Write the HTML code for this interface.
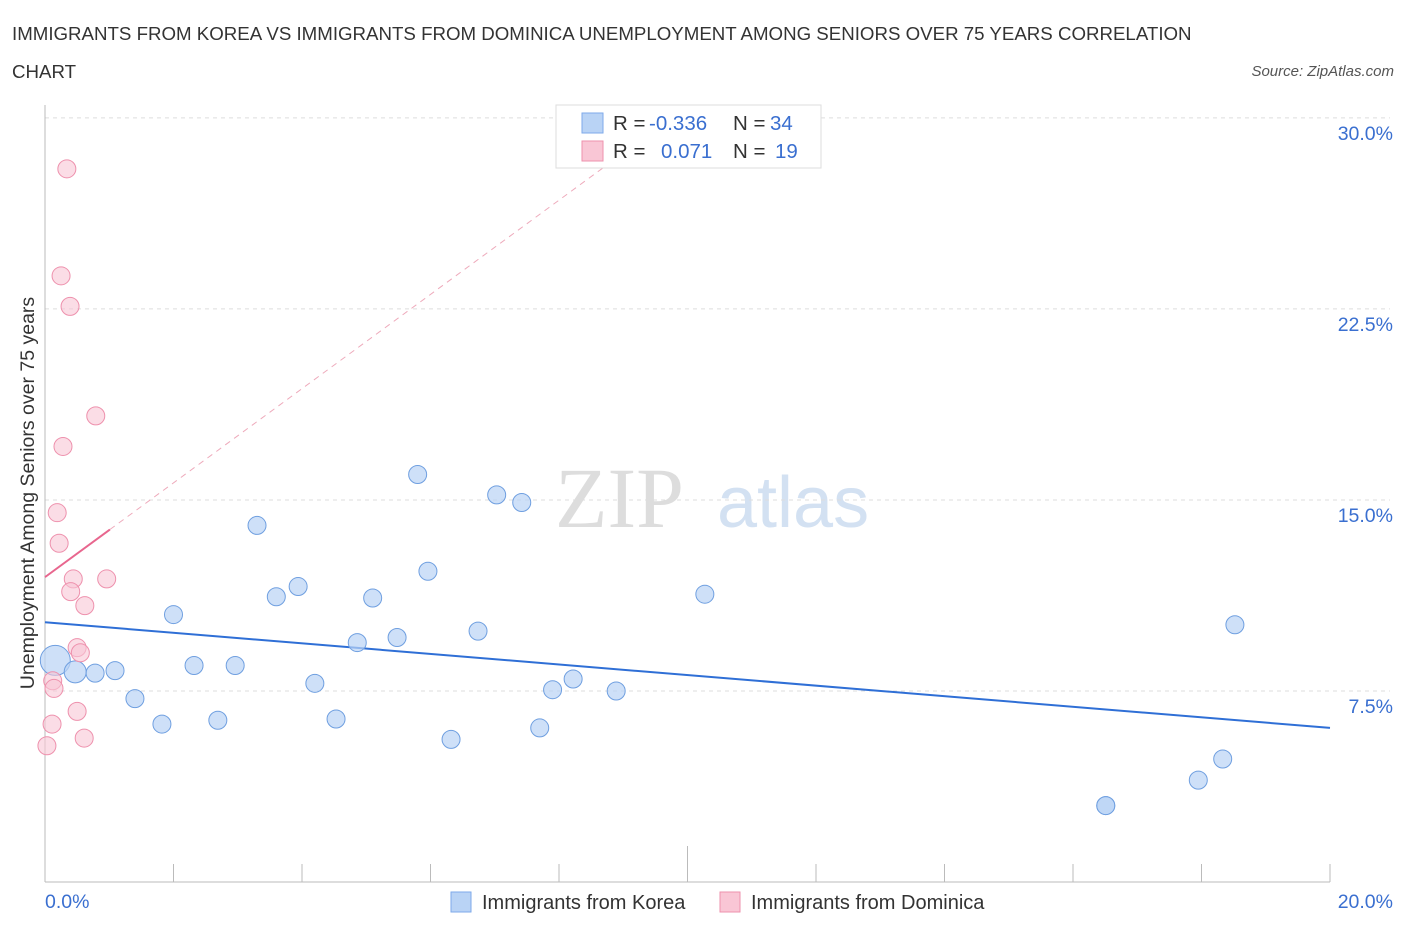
<!DOCTYPE html>
<html><head><meta charset="utf-8">
<style>
body{margin:0;background:#fff;font-family:"Liberation Sans",sans-serif;}
svg{display:block}
</style></head><body>
<svg width="1406" height="930" xmlns="http://www.w3.org/2000/svg" font-family="Liberation Sans, sans-serif">
<text x="12" y="40" font-size="18.7" fill="#333">IMMIGRANTS FROM KOREA VS IMMIGRANTS FROM DOMINICA UNEMPLOYMENT AMONG SENIORS OVER 75 YEARS CORRELATION</text>
<text x="12" y="78" font-size="18.7" fill="#333">CHART</text>
<text x="1394" y="76" font-size="15" fill="#555" font-style="italic" text-anchor="end">Source: ZipAtlas.com</text>
<text x="555" y="527" font-size="86" fill="#ddd" font-family="Liberation Serif, serif">ZIP</text>
<text x="717" y="527" font-size="72" fill="#d3e1f2">atlas</text>
<g id="grid"></g>
<g id="axes"></g>
<text transform="translate(34,493) rotate(-90)" font-size="19.5" fill="#333" text-anchor="middle">Unemployment Among Seniors over 75 years</text>
<g id="lines"></g>
<g id="pts"></g>
<g>
<rect x="556" y="105" width="265" height="63" fill="#fff" stroke="#ddd"/>
<rect x="582" y="113" width="21" height="20" fill="#b9d3f5" stroke="#7eaaea"/>
<rect x="582" y="141" width="21" height="20" fill="#f9c6d5" stroke="#ee91ad"/>
<text x="613" y="130" font-size="20.5" fill="#333">R =</text>
<text x="649" y="130" font-size="20.5" fill="#3a6fd0">-0.336</text>
<text x="733" y="130" font-size="20.5" fill="#333">N =</text>
<text x="770" y="130" font-size="20.5" fill="#3a6fd0">34</text>
<text x="613" y="158" font-size="20.5" fill="#333">R =</text>
<text x="661" y="158" font-size="20.5" fill="#3a6fd0">0.071</text>
<text x="733" y="158" font-size="20.5" fill="#333">N =</text>
<text x="775" y="158" font-size="20.5" fill="#3a6fd0">19</text>
</g>
<g>
<rect x="451" y="892" width="20" height="20" fill="#b9d3f5" stroke="#7eaaea"/>
<text x="482" y="909" font-size="20" fill="#333">Immigrants from Korea</text>
<rect x="720" y="892" width="20" height="20" fill="#f9c6d5" stroke="#ee91ad"/>
<text x="751" y="909" font-size="20" fill="#333">Immigrants from Dominica</text>
</g>
</svg>
<script>
const yTicks=[7.5,15,22.5,30];
const yTickLabels=["7.5%","15.0%","22.5%","30.0%"];
const xTickLabels=["0.0%","20.0%"];
const koreaX=[0.16,0.47,0.78,1.09,1.4,1.82,2.0,2.32,2.69,2.96,3.3,3.6,3.94,4.2,4.53,4.86,5.1,5.48,5.8,5.96,6.32,6.74,7.03,7.42,7.7,7.9,8.22,8.89,10.27,16.51,16.51,17.95,18.33,18.52];
const koreaY=[8.7,8.25,8.2,8.3,7.2,6.2,10.5,8.5,6.35,8.5,14.0,11.2,11.6,7.8,6.4,9.4,11.15,9.6,16.0,12.2,5.6,9.85,15.2,14.9,6.05,7.55,7.97,7.5,11.3,3.0,3.0,4.0,4.83,10.1];
const koreaR=[15,11,9,9,9,9,9,9,9,9,9,9,9,9,9,9,9,9,9,9,9,9,9,9,9,9,9,9,9,9,9,9,9,9];
const domX=[0.34,0.25,0.39,0.79,0.28,0.19,0.22,0.44,0.4,0.96,0.62,0.5,0.55,0.12,0.14,0.11,0.5,0.61,0.03];
const domY=[28.0,23.8,22.6,18.3,17.1,14.5,13.3,11.9,11.4,11.9,10.85,9.2,9.0,7.9,7.6,6.2,6.7,5.65,5.35];
const koreaTrend=[10.2,6.05];
const domTrend=[11.97,1.85];
const NS="http://www.w3.org/2000/svg";
const X=v=>45+v*64.25, Y=v=>882-v*25.47;
function mk(tag,attrs,parent){const e=document.createElementNS(NS,tag);for(const k in attrs)e.setAttribute(k,attrs[k]);document.getElementById(parent).appendChild(e);return e;}
yTicks.forEach((t,i)=>{
 const g=mk('line',{x1:45,x2:1390,y1:Y(t),y2:Y(t),stroke:'#ddd','stroke-dasharray':'4,4'},'grid');
 
 
 const l=mk('text',{x:1393,y:Y(t)+22,'font-size':19.5,fill:'#3a6fd0','text-anchor':'end'},'grid');
 l.textContent=yTickLabels[i];
 
 
});
const ax=mk('line',{x1:45,x2:45,y1:105,y2:882,stroke:'#bbb'},'axes');


const bx=mk('line',{x1:45,x2:1330,y1:882,y2:882,stroke:'#bbb'},'axes');


for(let i=0;i<=10;i++){
 const t=mk('line',{x1:X(i*2),x2:X(i*2),y1:i==5?846:864,y2:882,stroke:'#bbb'},'axes');
 
 
}
[[0,'start',45],[1,'end',1393]].forEach(([i,a,x])=>{
 const t=mk('text',{x:x,y:908,'font-size':19.5,fill:'#3a6fd0','text-anchor':a},'axes');
 t.textContent=xTickLabels[i];
 
 
});
const kl=mk('line',{x1:X(0),y1:Y(koreaTrend[0]),x2:X(20),y2:Y(koreaTrend[1]),stroke:'#2f6fd6','stroke-width':2},'lines');


const dx2=(30-domTrend[0])/domTrend[1];
const dd=mk('line',{x1:X(1.01),y1:Y(domTrend[0]+domTrend[1]*1.01),x2:X(dx2),y2:Y(30),stroke:'#eeaabb','stroke-width':1,'stroke-dasharray':'6,5'},'lines');


const dl=mk('line',{x1:X(0),y1:Y(domTrend[0]),x2:X(1.01),y2:Y(domTrend[0]+domTrend[1]*1.01),stroke:'#e8668e','stroke-width':2},'lines');


koreaX.forEach((v,i)=>{
 const c=mk('circle',{cx:X(v),cy:Y(koreaY[i]),r:koreaR[i],fill:'rgba(185,211,245,0.7)',stroke:'#6f9fe0','stroke-width':1},'pts');
 
 
});
domX.forEach((v,i)=>{
 const c=mk('circle',{cx:X(v),cy:Y(domY[i]),r:9,fill:'rgba(249,198,213,0.6)',stroke:'#ee91ad','stroke-width':1},'pts');
 
 
});
</script>
</body></html>
